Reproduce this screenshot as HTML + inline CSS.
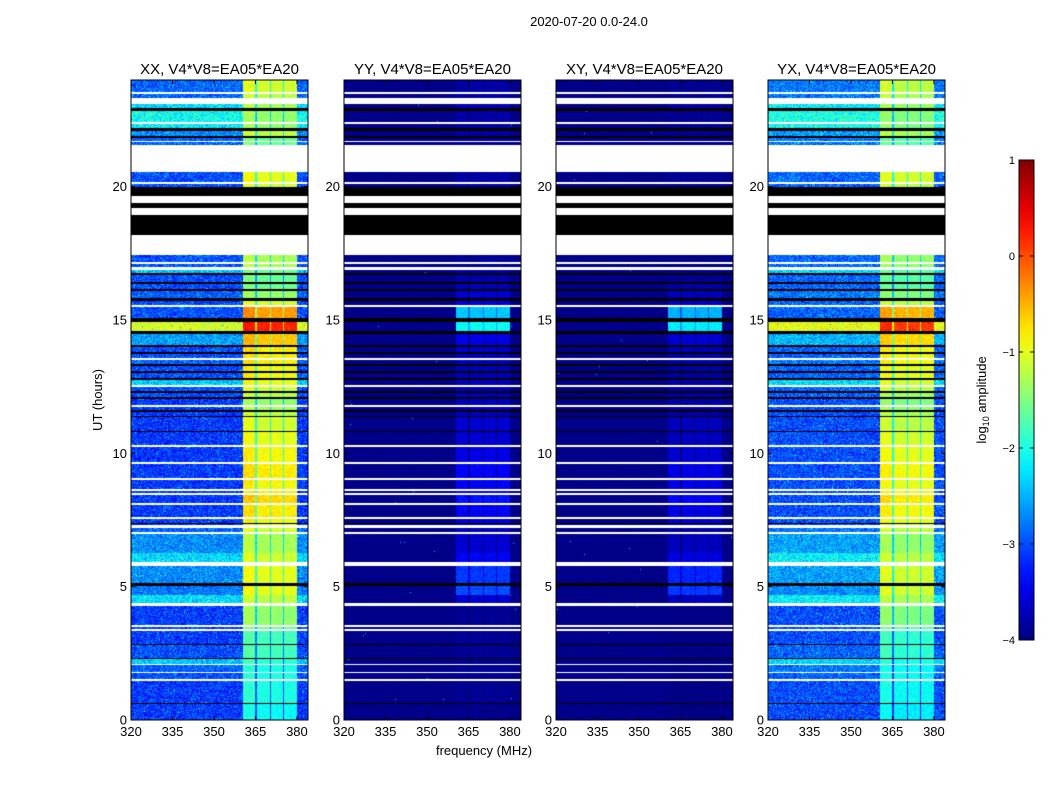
<!DOCTYPE html>
<html><head><meta charset="utf-8">
<style>
html,body{margin:0;padding:0;background:#fff;}
#root{position:relative;width:1050px;height:800px;font-family:"Liberation Sans",sans-serif;}
canvas{position:absolute;}
svg{position:absolute;left:0;top:0;}
</style></head>
<body>
<div id="root">
<svg id="ov" width="1050" height="800"></svg>
</div>
<script>
// ---- data ----
const pols = ["XX","YY","XY","YX"];
const baseline = "V4*V8=EA05*EA20";
const yTicks = [0,5,10,15,20];
const xTicks = [320,335,350,365,380];
const cbTicks = [1,0,-1,-2,-3,-4];
const cbLabels = ["1","0","\u22121","\u22122","\u22123","\u22124"];
const bandEdges = [360.4, 380.0];
const subGaps = [365.1, 370.5, 375.2];
// time segments (top hour), type, XX background level, XX band level, YY band level
const segTop = [24.00,23.55,23.47,23.32,23.10,22.95,22.84,22.42,22.35,22.20,
 22.09,21.90,21.82,21.71,21.67,21.56,20.55,20.17,20.10,19.99,
 19.65,19.39,19.20,18.94,18.19,17.44,17.18,17.10,16.99,16.88,
 16.76,16.69,16.43,16.35,16.16,16.09,15.83,15.71,15.56,15.49,
 15.08,14.93,14.59,14.48,14.06,13.99,13.80,13.72,13.57,13.50,
 13.35,13.28,13.09,13.01,12.83,12.75,12.56,12.49,12.34,12.26,
 12.11,12.04,11.81,11.74,11.63,11.55,11.40,11.36,10.84,10.80,
 10.31,10.24,9.68,9.60,9.08,9.00,8.66,8.59,8.51,8.44,
 8.14,8.06,7.61,7.54,7.39,7.35,7.31,7.20,7.05,6.98,
 6.26,5.93,5.78,5.14,5.03,4.69,4.39,4.28,3.56,3.49,
 3.41,3.34,2.85,2.81,2.33,2.29,2.10,2.06,1.80,1.76,
 1.54,1.46,0.64,0.60];
const segType = ["d","w","d","w","d","k","d","w","d","k",
 "d","k","d","w","d","w","d","w","d","k",
 "w","k","w","k","w","d","w","d","w","d",
 "k","d","k","d","k","d","k","d","w","d",
 "k","d","k","d","k","d","k","d","w","d",
 "k","d","k","d","k","d","w","d","k","d",
 "k","d","w","d","k","d","k","d","k","d",
 "w","d","w","d","w","d","w","d","w","d",
 "w","d","w","d","k","d","w","d","w","d",
 "d","w","d","k","d","d","w","d","w","d",
 "w","d","k","d","k","d","w","d","w","d",
 "w","d","k","d"];
const bgXX = [-2.8,0,-2.8,0,-2.2,0,-2.0,0,-2.1,0,
 -2.6,0,-2.8,0,-2.8,0,-2.9,0,-2.9,0,
 0,0,0,0,0,-2.9,0,-2.9,0,-2.3,
 0,-2.9,0,-2.9,0,-2.8,0,-2.9,0,-2.9,
 0,-1.0,0,-2.5,0,-2.9,0,-2.9,0,-2.8,
 0,-2.9,0,-2.9,0,-2.3,0,-2.9,0,-2.9,
 0,-3.0,0,-3.0,0,-3.0,0,-3.0,0,-3.0,
 0,-3.0,0,-3.0,0,-3.0,0,-3.0,0,-3.0,
 0,-3.0,0,-3.0,0,-3.0,0,-2.8,0,-2.6,
 -2.2,0,-2.6,0,-2.7,-2.2,0,-3.0,0,-3.0,
 0,-3.0,0,-2.9,0,-2.3,0,-2.8,0,-2.9,
 0,-3.0,0,-3.0];
const bandXX = [-1.3,0,-1.4,0,-1.5,0,-1.6,0,-1.6,0,
 -1.4,0,-1.8,0,-1.8,0,-1.2,0,-1.3,0,
 0,0,0,0,0,-1.5,0,-1.5,0,-1.8,
 0,-1.8,0,-1.8,0,-1.6,0,-1.3,0,-0.6,
 0,0.0,0,-0.8,0,-1.0,0,-1.0,0,-1.0,
 0,-1.1,0,-1.1,0,-1.2,0,-1.3,0,-1.4,
 0,-1.6,0,-1.5,0,-1.4,0,-1.3,0,-1.2,
 0,-1.1,0,-1.0,0,-1.1,0,-1.0,0,-0.9,
 0,-1.0,0,-1.1,0,-1.2,0,-1.3,0,-1.5,
 -1.3,0,-1.2,0,-1.2,-1.4,0,-1.6,0,-1.8,
 0,-2.0,0,-2.0,0,-2.1,0,-2.2,0,-2.2,
 0,-2.2,0,-2.3];
const bandYY = [-3.8,0,-3.8,0,-3.7,0,-3.8,0,-3.8,0,
 -3.8,0,-3.9,0,-3.9,0,-3.8,0,-3.8,0,
 0,0,0,0,0,-3.9,0,-3.9,0,-3.8,
 0,-3.8,0,-3.7,0,-3.6,0,-3.5,0,-2.4,
 0,-2.1,0,-3.5,0,-3.6,0,-3.7,0,-3.7,
 0,-3.7,0,-3.7,0,-3.7,0,-3.7,0,-3.7,
 0,-3.7,0,-3.7,0,-3.7,0,-3.6,0,-3.6,
 0,-3.5,0,-3.4,0,-3.4,0,-3.4,0,-3.3,
 0,-3.4,0,-3.5,0,-3.6,0,-3.7,0,-3.6,
 -3.4,0,-3.1,0,-3.0,-3.6,0,-3.9,0,-3.9,
 0,-3.9,0,-3.9,0,-3.9,0,-3.9,0,-3.9,
 0,-3.9,0,-3.95];
// ---- layout ----
const panelLeft = [131,344,556,768];
const PW = 177, PT = 80, PB = 720;
const fMin = 320, fMax = 384, tMin = 0, tMax = 24;
const cbX = 1019, cbW = 15, cbTop = 160, cbBot = 640, vMin = -4, vMax = 1;
function xOf(f){return (f-fMin)/(fMax-fMin)*PW;}
function yOf(h){return PB-(h-tMin)/(tMax-tMin)*(PB-PT);}
function cbY(v){return cbBot-(v-vMin)/(vMax-vMin)*(cbBot-cbTop);}
function jet(v){
  let t=(v-vMin)/(vMax-vMin); t=Math.max(0,Math.min(1,t));
  const c=a=>Math.round(255*Math.max(0,Math.min(1,a)));
  return [c(1.5-Math.abs(4*t-3)),c(1.5-Math.abs(4*t-2)),c(1.5-Math.abs(4*t-1))];
}
function hash(x,y,p){let h=(x*374761393+y*668265263+p*1274126177)|0;h=(h^(h>>>13))*1274126177|0;return ((h^(h>>>16))>>>0)/4294967296;}
const root=document.getElementById('root');
const NS="http://www.w3.org/2000/svg";
const ov=document.getElementById('ov');
function sv(tag,attrs,name,parent){const e=document.createElementNS(NS,tag);for(const k in attrs)e.setAttribute(k,attrs[k]);
  
  
  (parent||ov).appendChild(e);return e;}
function segAt(h){for(let i=0;i<segTop.length;i++){const bot=i+1<segTop.length?segTop[i+1]:0;if(h<=segTop[i]&&h>bot)return i;}return segTop.length-1;}
pols.forEach((pol,p)=>{
  const cv=document.createElement('canvas');cv.width=PW;cv.height=PB-PT;
  cv.style.left=panelLeft[p]+'px';cv.style.top=PT+'px';
  
  
  root.insertBefore(cv,ov);
  const ctx=cv.getContext('2d');const img=ctx.createImageData(PW,PB-PT);
  const b0=xOf(bandEdges[0]),b1=xOf(bandEdges[1]);const gx=subGaps.map(xOf);
  for(let py=0;py<PB-PT;py++){
    const h=tMax-(py+0.5)/(PB-PT)*(tMax-tMin);const s=segAt(h);const ty=segType[s];
    for(let px=0;px<PW;px++){
      let col;
      if(ty==="w")col=[255,255,255];else if(ty==="k")col=[0,0,0];
      else{
        const inB=px>=b0&&px<b1;const gap=gx.some(g=>Math.abs(px+0.5-g)<0.8);
        const n=hash(px,py,p)-0.5, n2=hash(py,px,p+7)-0.5;
        let v;
        if(p===0||p===3){
          const off=p===3?0.1:0;
          if(inB)v=bandXX[s]+0.2-off+n*0.35+(gap?-1.0:0)+(px<gx[0]?0.1:0);
          else v=bgXX[s]-0.1+off+n*0.8+(n2>0.48?0.8:0);
        }else{
          const off=p===2?0.1:0;
          if(inB)v=bandYY[s]-off+n*0.25+(gap?-0.4:0);
          else v=-3.95+n*0.08+(n2>0.4995?1.5:0);
        }
        col=jet(v);
      }
      const k=(py*PW+px)*4;img.data[k]=col[0];img.data[k+1]=col[1];img.data[k+2]=col[2];img.data[k+3]=255;
    }
  }
  ctx.putImageData(img,0,0);
  const L=panelLeft[p];
  const g=sv('g',{},'panel-'+pol.toLowerCase());
  sv('rect',{x:L,y:PT,width:PW,height:PB-PT,fill:'none',stroke:'#000','stroke-width':1},'panel-frame',g);
  const t=sv('text',{x:L+PW/2,y:74,'text-anchor':'middle','font-size':15},'panel-title',g);t.textContent=pol+", "+baseline;
  yTicks.forEach(v=>{const y=yOf(v);
    sv('line',{x1:L,x2:L+4,y1:y,y2:y,stroke:'#000'},'y-tick',g);
    sv('line',{x1:L+PW-4,x2:L+PW,y1:y,y2:y,stroke:'#000'},'y-tick',g);
    const tx=sv('text',{x:L-4,y:y+4.5,'text-anchor':'end','font-size':13},'y-tick-label',g);tx.textContent=v;});
  xTicks.forEach(v=>{const x=L+xOf(v);
    sv('line',{x1:x,x2:x,y1:PB,y2:PB-4,stroke:'#000'},'x-tick',g);
    sv('line',{x1:x,x2:x,y1:PT,y2:PT+4,stroke:'#000'},'x-tick',g);
    const tx=sv('text',{x:x,y:PB+16,'text-anchor':'middle','font-size':13},'x-tick-label',g);tx.textContent=v;});
});
// titles
let e=sv('text',{x:589,y:26,'text-anchor':'middle','font-size':13},'figure-title');e.textContent="2020-07-20 0.0-24.0";
e=sv('text',{x:0,y:0,'text-anchor':'middle','font-size':13,transform:'translate(102,400) rotate(-90)'},'y-axis-title');e.textContent="UT (hours)";
e=sv('text',{x:484,y:755,'text-anchor':'middle','font-size':13},'x-axis-title');e.textContent="frequency (MHz)";
// colorbar
const defs=sv('defs',{},'defs');const lg=sv('linearGradient',{id:'cbg',x1:0,y1:1,x2:0,y2:0},'colorbar-gradient',defs);
for(let i=0;i<=20;i++){const v=vMin+(vMax-vMin)*i/20;const c=jet(v);sv('stop',{offset:i/20,'stop-color':`rgb(${c})`},'gradient-stop',lg);}
sv('rect',{x:cbX,y:cbTop,width:cbW,height:cbBot-cbTop,fill:'url(#cbg)',stroke:'#000'},'colorbar');
cbTicks.forEach((v,i)=>{const y=cbY(v);
  sv('line',{x1:cbX,x2:cbX+4,y1:y,y2:y,stroke:'#000'},'colorbar-tick');
  sv('line',{x1:cbX+cbW-4,x2:cbX+cbW,y1:y,y2:y,stroke:'#000'},'colorbar-tick');
  const t=sv('text',{x:cbX-4,y:y+4,'text-anchor':'end','font-size':11},'colorbar-tick-label');t.textContent=cbLabels[i];});
e=sv('text',{x:0,y:0,'text-anchor':'middle','font-size':13,transform:'translate(986,400) rotate(-90)'},'colorbar-label');
e.innerHTML='log<tspan font-size="9" dy="3">10</tspan><tspan dy="-3"> amplitude</tspan>';
</script>
</body></html>
